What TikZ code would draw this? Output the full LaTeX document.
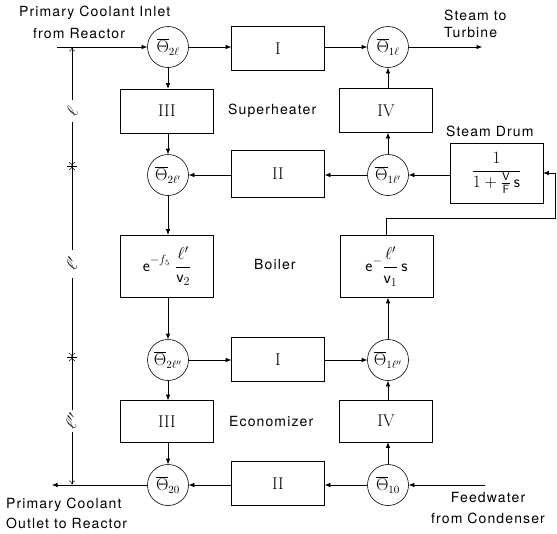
\documentclass[tikz,border=0pt]{standalone}
\usepackage{fontspec}
\setmainfont{TeX Gyre Heros}[LetterSpace=8]
\newfontfamily\romfont{Latin Modern Roman}
\usetikzlibrary{arrows.meta}
\newcommand{\Tb}{\overline{\Theta}}
\begin{document}
\begin{tikzpicture}[x=1pt,y=-1pt,
  blk/.style={draw, minimum width=93pt, minimum height=44pt, inner sep=0pt, line width=0.6pt, font=\fontsize{17}{20}\selectfont},
  rom/.style={font=\fontsize{17}{20}\romfont},
  sumc/.style={draw, circle, minimum size=41pt, inner sep=0pt, line width=0.6pt, font=\fontsize{16}{19}\selectfont},
  arr/.style={-{Latex[length=5.5pt,width=4.5pt]}, line width=0.6pt},
  dimarr/.style={-{To[length=4pt,width=6pt]}, line width=0.5pt},
  lab/.style={font=\fontsize{14}{17}\selectfont, inner sep=0pt},
  ell/.style={font=\fontsize{18}{20}\selectfont, inner sep=1pt, rotate=60}]
\useasboundingbox (0,0) rectangle (557,533);
% nodes
\node[sumc] (A) at (168,47) {$\Tb_{2\ell}$};
\node[blk, rom] (I1) at (278,48.5) {I};
\node[sumc] (C) at (388,47) {$\Tb_{1\ell}$};
\node[blk, rom] (III1) at (167,111) {III};
\node[blk, rom] (IV1) at (386,110.5) {IV};
\node[sumc] (B) at (168,175) {$\Tb_{2\ell'}$};
\node[blk, rom, minimum height=47pt] (II1) at (278,173.5) {II};
\node[sumc] (D) at (388,175) {$\Tb_{1\ell'}$};
\node[blk, minimum height=60pt] (drum) at (496.5,173) {$\displaystyle\frac{1}{1+\frac{\mathsf{V}}{\mathsf{F}}\,\mathsf{s}}$};
\node[blk, minimum height=62pt] (BL) at (167,266) {$\displaystyle\mathsf{e}^{-f_5}\;\frac{\ell'}{\mathsf{v}_2}$};
\node[blk, minimum height=62pt] (BR) at (386.5,266.5) {$\displaystyle\mathsf{e}^{-}\frac{\ell'}{\mathsf{v}_1}\,\mathsf{s}$};
\node[sumc] (E) at (168,360) {$\Tb_{2\ell''}$};
\node[blk, rom] (I2) at (278,359.5) {I};
\node[sumc] (F) at (388,360) {$\Tb_{1\ell''}$};
\node[blk, rom, minimum height=42pt] (III2) at (167,421.5) {III};
\node[blk, rom, minimum height=42pt] (IV2) at (386,421) {IV};
\node[sumc] (G) at (168,485) {$\Tb_{20}$};
\node[blk, rom] (II2) at (278,483.5) {II};
\node[sumc] (H) at (388,485) {$\Tb_{10}$};
% free ends
\coordinate (inS) at (57,47);
\coordinate (tout) at (482,47);
\coordinate (outE) at (52,485);
\coordinate (fwS) at (485,485);
\coordinate (fb1) at (555,218);
% connectors
\draw[arr] (inS) -- (A);
\draw[arr] (A.east) -- (A.east -| I1.west);
\draw[arr] (I1.east |- C.west) -- (C.west);
\draw[arr] (C) -- (tout);
\draw[arr] (A.south) -- (A.south |- III1.north);
\draw[arr] (B.north |- III1.south) -- (B.north);
\draw[arr] (II1.west |- B.east) -- (B.east);
\draw[arr] (D.west) -- (D.west -| II1.east);
\draw[arr] (drum.west |- D.east) -- (D.east);
\draw[arr] (D.north) -- (D.north |- IV1.south);
\draw[arr] (C.south |- IV1.north) -- (C.south);
\draw[arr] (B.south) -- (B.south |- BL.north);
\draw[arr] (E.north |- BL.south) -- (E.north);
\draw[arr] (BR.north) |- (fb1) |- (drum.east);
\draw[arr] (F.north) -- (F.north |- BR.south);
\draw[arr] (E.east) -- (E.east -| I2.west);
\draw[arr] (I2.east |- F.west) -- (F.west);
\draw[arr] (E.south) -- (E.south |- III2.north);
\draw[arr] (G.north |- III2.south) -- (G.north);
\draw[arr] (G) -- (outE);
\draw[arr] (II2.west |- G.east) -- (G.east);
\draw[arr] (H.west) -- (H.west -| II2.east);
\draw[arr] (fwS) -- (H);
\draw[arr] (H.north) -- (H.north |- IV2.south);
\draw[arr] (F.south |- IV2.north) -- (F.south);
% dimension line
\draw[dimarr] (72,100) -- (72,47.5);
\draw[dimarr] (72,122) -- (72,166);
\draw[dimarr] (72,250) -- (72,166);
\draw[dimarr] (72,278) -- (72,357);
\draw[dimarr] (72,410) -- (72,357);
\draw[dimarr] (72,432) -- (72,484.5);
\draw[line width=0.5pt] (67,166) -- (77,166);
\draw[line width=0.5pt] (67,357) -- (77,357);
\node[ell] at (72,111) {$\ell$};
\node[ell] at (72,264) {$\ell'$};
\node[ell] at (72,421) {$\ell''$};
% texts
\node[lab, anchor=west] at (19,13) {Primary Coolant Inlet};
\node[lab, anchor=west] at (33,33) {from Reactor};
\node[lab, anchor=west] at (444,15) {Steam to};
\node[lab, anchor=west] at (444,33) {Turbine};
\node[lab, anchor=west] at (228,111) {Superheater};
\node[lab, anchor=west] at (446,131) {Steam Drum};
\node[lab, anchor=west] at (254,264) {Boiler};
\node[lab, anchor=west] at (229,421) {Economizer};
\node[lab, anchor=west] at (6,505) {Primary Coolant};
\node[lab, anchor=west] at (6,523) {Outlet to Reactor};
\node[lab] at (488,497) {Feedwater};
\node[lab] at (488,518) {from Condenser};
\end{tikzpicture}
\end{document}
